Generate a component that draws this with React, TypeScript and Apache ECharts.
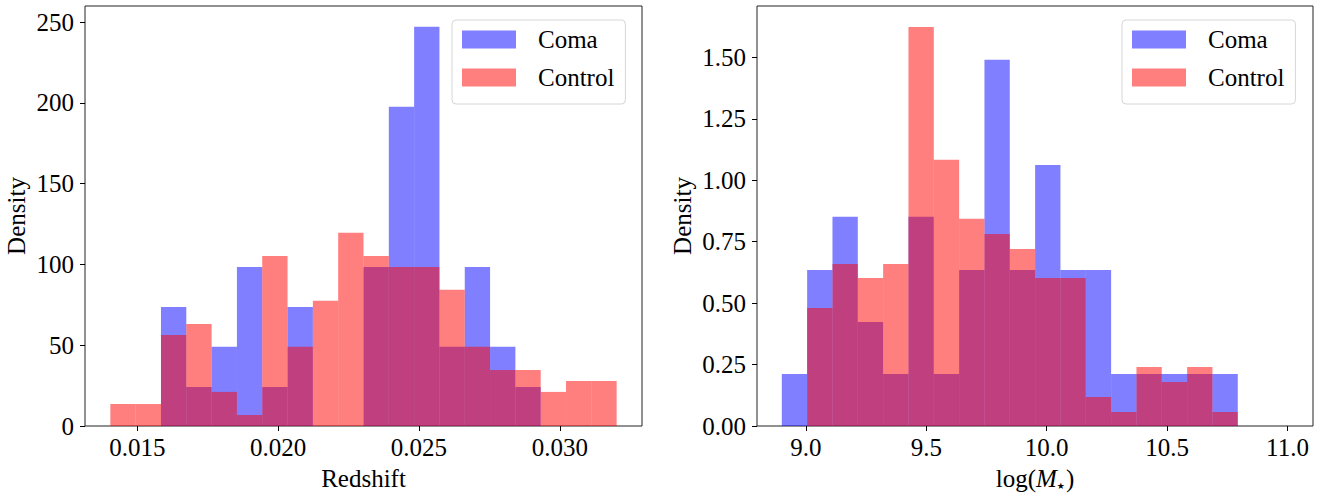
import React, { useEffect, useRef } from "react";
import * as echarts from "echarts";

// ---- Data ----
const redshiftEdges = [
  0.01404, 0.014939, 0.015838, 0.016737, 0.017636, 0.018535, 0.019434, 0.020333,
  0.021232, 0.022131, 0.02303, 0.023929, 0.024828, 0.025727, 0.026626, 0.027525,
  0.028424, 0.029323, 0.030222, 0.031121, 0.03202,
];
const redshiftComa = [
  0, 0, 73.7, 24.2, 49.0, 98.5, 24.2, 73.7, 0, 0, 98.5, 197.6, 247.2, 49.0, 98.5, 49.0, 24.2, 0, 0, 0,
];
const redshiftControl = [
  13.6, 13.6, 56.4, 63.2, 21.1, 6.8, 105.3, 49.0, 77.5, 119.6, 105.3, 98.5, 98.5, 84.3, 49.0, 34.7,
  34.7, 21.1, 27.9, 27.9,
];
const massEdges = [
  8.9, 9.0052, 9.1104, 9.2156, 9.3208, 9.426, 9.5312, 9.6364, 9.7416, 9.8468, 9.952, 10.0572,
  10.1624, 10.2676, 10.3728, 10.478, 10.5832, 10.6884, 10.7936,
];
const massComa = [
  0.212, 0.635, 0.851, 0.423, 0.212, 0.851, 0.212, 0.635, 1.49, 0.635, 1.062, 0.635, 0.635, 0.212,
  0.212, 0.212, 0.212, 0.212,
];
const massControl = [
  0, 0.48, 0.659, 0.602, 0.659, 1.624, 1.083, 0.843, 0.781, 0.72, 0.602, 0.602, 0.118, 0.057, 0.24,
  0.179, 0.24, 0.057,
];
const redshiftTicks = [0.015, 0.02, 0.025, 0.03];
const massTicks = [9.0, 9.5, 10.0, 10.5, 11.0];
const redshiftDensityTicks = [0, 50, 100, 150, 200, 250];
const massDensityTicks = [0, 0.25, 0.5, 0.75, 1.0, 1.25, 1.5];
const seriesNames = ["Coma", "Control"];

const FONT = "Liberation Serif";
const COMA_COLOR = "rgba(0,0,255,0.5)";
const CONTROL_COLOR = "rgba(255,0,0,0.5)";

function histData(edges: number[], vals: number[]) {
  return vals.map((v, i) => [edges[i], edges[i + 1], v]);
}

function renderBin(params: any, api: any) {
  const x0 = api.value(0);
  const x1 = api.value(1);
  const y = api.value(2);
  if (!y) return null;
  const p0 = api.coord([x0, y]);
  const p1 = api.coord([x1, 0]);
  return {
    type: "rect",
    shape: { x: p0[0], y: p0[1], width: p1[0] - p0[0], height: p1[1] - p0[1] },
    style: { fill: api.visual("color") },
  };
}

const serifRich = { s: { fontFamily: FONT, fontSize: 25, color: "#000" } };

export default function App() {
  const ref = useRef<HTMLDivElement>(null);
  useEffect(() => {
    const chart = echarts.init(ref.current!, undefined, { renderer: "svg" });
    const axisCommon = {
      axisLine: { show: false },
      splitLine: { show: false },
      nameTextStyle: { color: "#000", fontFamily: FONT, fontSize: 25 },
    };
    const tickStyle = { show: true, length: 5, inside: false, lineStyle: { color: "#000", width: 1 } };
    const labelStyle = { color: "#000", fontFamily: FONT, fontSize: 25, rich: serifRich };
    const legendCommon = {
      orient: "vertical",
      top: 20,
      icon: "rect",
      itemWidth: 54,
      itemHeight: 18,
      itemGap: 13,
      padding: [7, 11, 14, 10],
      backgroundColor: "#fff",
      borderColor: "#d6d6d6",
      borderWidth: 1,
      borderRadius: 4,
      selectedMode: false,
      formatter: (name: string) => `{s|${name}}`,
      textStyle: {
        color: "#000",
        fontFamily: FONT,
        fontSize: 25,
        padding: [0, 0, 0, 17],
        rich: serifRich,
      },
      data: seriesNames,
    };
    chart.setOption({
      animation: false,
      backgroundColor: "#fff",
      textStyle: { fontFamily: FONT, color: "#000" },
      grid: [
        { left: 85, top: 6, width: 557, height: 420, show: true, borderColor: "#222", borderWidth: 1, backgroundColor: "transparent" },
        { left: 757, top: 6, width: 556, height: 420, show: true, borderColor: "#222", borderWidth: 1, backgroundColor: "transparent" },
      ],
      legend: [
        { ...legendCommon, left: 452 },
        { ...legendCommon, left: 1122 },
      ],
      xAxis: [
        {
          ...axisCommon,
          type: "value",
          gridIndex: 0,
          min: 0.01314,
          max: 0.03292,
          name: "Redshift",
          nameLocation: "middle",
          nameGap: 40,
          axisTick: { ...tickStyle, customValues: redshiftTicks },
          axisLabel: {
            ...labelStyle,
            margin: 9,
            customValues: redshiftTicks,
            formatter: (v: number) => `{s|${v.toFixed(3)}}`,
          },
        },
        {
          ...axisCommon,
          type: "value",
          gridIndex: 1,
          min: 8.797,
          max: 11.106,
          name: "log({i|M}{t|★})",
          nameLocation: "middle",
          nameGap: 40,
          nameTextStyle: {
            ...axisCommon.nameTextStyle,
            rich: {
              i: { fontFamily: FONT, fontSize: 25, fontStyle: "italic", color: "#000" },
              t: { fontFamily: "DejaVu Sans", fontSize: 9, color: "#000", padding: [14, 1, 0, 0] },
            },
          },
          axisTick: { ...tickStyle, customValues: massTicks },
          axisLabel: {
            ...labelStyle,
            margin: 9,
            customValues: massTicks,
            formatter: (v: number) => `{s|${v.toFixed(1)}}`,
          },
        },
      ],
      yAxis: [
        {
          ...axisCommon,
          type: "value",
          gridIndex: 0,
          min: 0,
          max: 260,
          name: "Density",
          nameLocation: "middle",
          nameGap: 56,
          axisTick: { ...tickStyle, customValues: redshiftDensityTicks },
          axisLabel: {
            ...labelStyle,
            margin: 11,
            customValues: redshiftDensityTicks,
            formatter: (v: number) => `{s|${v}}`,
          },
        },
        {
          ...axisCommon,
          type: "value",
          gridIndex: 1,
          min: 0,
          max: 1.709,
          name: "Density",
          nameLocation: "middle",
          nameGap: 62,
          axisTick: { ...tickStyle, customValues: massDensityTicks },
          axisLabel: {
            ...labelStyle,
            margin: 11,
            customValues: massDensityTicks,
            formatter: (v: number) => `{s|${v.toFixed(2)}}`,
          },
        },
      ],
      series: [
        {
          type: "custom",
          name: "Coma",
          xAxisIndex: 0,
          yAxisIndex: 0,
          itemStyle: { color: COMA_COLOR },
          renderItem: renderBin,
          data: histData(redshiftEdges, redshiftComa),
          encode: { x: [0, 1], y: 2 },
        },
        {
          type: "custom",
          name: "Control",
          xAxisIndex: 0,
          yAxisIndex: 0,
          itemStyle: { color: CONTROL_COLOR },
          renderItem: renderBin,
          data: histData(redshiftEdges, redshiftControl),
          encode: { x: [0, 1], y: 2 },
        },
        {
          type: "custom",
          name: "Coma",
          xAxisIndex: 1,
          yAxisIndex: 1,
          itemStyle: { color: COMA_COLOR },
          renderItem: renderBin,
          data: histData(massEdges, massComa),
          encode: { x: [0, 1], y: 2 },
        },
        {
          type: "custom",
          name: "Control",
          xAxisIndex: 1,
          yAxisIndex: 1,
          itemStyle: { color: CONTROL_COLOR },
          renderItem: renderBin,
          data: histData(massEdges, massControl),
          encode: { x: [0, 1], y: 2 },
        },
      ],
    });
    return () => chart.dispose();
  }, []);
  return (
    <div
      ref={ref}
      style={{ position: "fixed", left: 0, top: 0, width: 1326, height: 496, background: "#fff" }}
    />
  );
}
